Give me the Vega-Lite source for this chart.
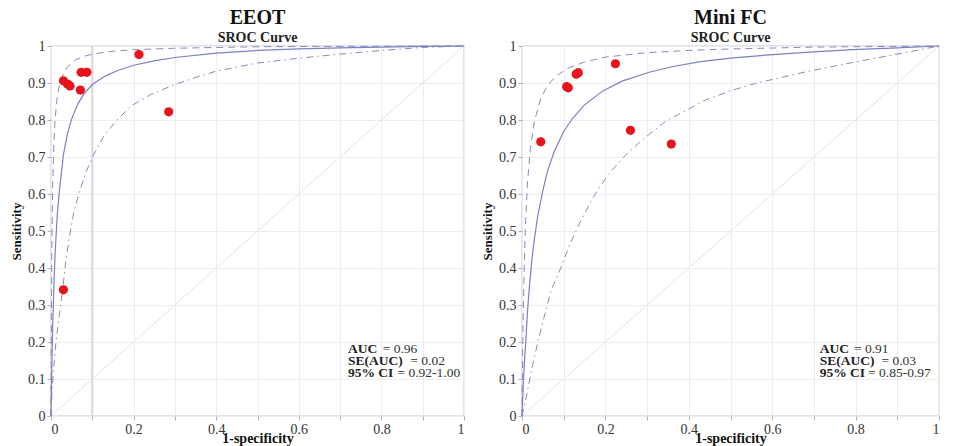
{
  "$schema": "https://vega.github.io/schema/vega-lite/v6.json",
  "background": "white",
  "padding": {"left": 9, "top": 7, "right": 4, "bottom": 0},
  "spacing": 12,
  "config": {
    "font": "Liberation Serif",
    "view": {"stroke": "#c4c4ce", "strokeWidth": 1.3},
    "axis": {
      "domain": false,
      "gridColor": "#ececf1",
      "tickColor": "#b0b0bc",
      "tickSize": 4,
      "labelFont": "Liberation Serif",
      "labelFontSize": 14,
      "labelColor": "#333333",
      "labelPadding": 2,
      "titleFont": "Liberation Serif",
      "titleFontSize": 14,
      "titleFontWeight": "bold",
      "titleColor": "#111111"
    },
    "title": {
      "font": "Liberation Serif",
      "fontSize": 20,
      "fontWeight": "bold",
      "color": "#111111",
      "subtitleFont": "Liberation Serif",
      "subtitleFontSize": 14,
      "subtitleFontWeight": "bold",
      "subtitleColor": "#222222",
      "subtitlePadding": 3,
      "offset": -6,
      "anchor": "middle"
    }
  },
  "datasets": {
    "curves": [
      {"panel": "EEOT", "curve": "diag", "fpr": 0, "tpr": 0},
      {"panel": "EEOT", "curve": "diag", "fpr": 1, "tpr": 1},
      {"panel": "EEOT", "curve": "sroc", "fpr": 0, "tpr": 0},
      {"panel": "EEOT", "curve": "sroc", "fpr": 0.001, "tpr": 0.072},
      {"panel": "EEOT", "curve": "sroc", "fpr": 0.002, "tpr": 0.134},
      {"panel": "EEOT", "curve": "sroc", "fpr": 0.004, "tpr": 0.237},
      {"panel": "EEOT", "curve": "sroc", "fpr": 0.007, "tpr": 0.353},
      {"panel": "EEOT", "curve": "sroc", "fpr": 0.01, "tpr": 0.439},
      {"panel": "EEOT", "curve": "sroc", "fpr": 0.015, "tpr": 0.541},
      {"panel": "EEOT", "curve": "sroc", "fpr": 0.02, "tpr": 0.605},
      {"panel": "EEOT", "curve": "sroc", "fpr": 0.03, "tpr": 0.706},
      {"panel": "EEOT", "curve": "sroc", "fpr": 0.04, "tpr": 0.764},
      {"panel": "EEOT", "curve": "sroc", "fpr": 0.05, "tpr": 0.803},
      {"panel": "EEOT", "curve": "sroc", "fpr": 0.065, "tpr": 0.843},
      {"panel": "EEOT", "curve": "sroc", "fpr": 0.08, "tpr": 0.871},
      {"panel": "EEOT", "curve": "sroc", "fpr": 0.1, "tpr": 0.896},
      {"panel": "EEOT", "curve": "sroc", "fpr": 0.13, "tpr": 0.918},
      {"panel": "EEOT", "curve": "sroc", "fpr": 0.16, "tpr": 0.933},
      {"panel": "EEOT", "curve": "sroc", "fpr": 0.2, "tpr": 0.948},
      {"panel": "EEOT", "curve": "sroc", "fpr": 0.25, "tpr": 0.96},
      {"panel": "EEOT", "curve": "sroc", "fpr": 0.3, "tpr": 0.969},
      {"panel": "EEOT", "curve": "sroc", "fpr": 0.4, "tpr": 0.981},
      {"panel": "EEOT", "curve": "sroc", "fpr": 0.5, "tpr": 0.988},
      {"panel": "EEOT", "curve": "sroc", "fpr": 0.6, "tpr": 0.992},
      {"panel": "EEOT", "curve": "sroc", "fpr": 0.7, "tpr": 0.995},
      {"panel": "EEOT", "curve": "sroc", "fpr": 0.8, "tpr": 0.997},
      {"panel": "EEOT", "curve": "sroc", "fpr": 0.9, "tpr": 0.999},
      {"panel": "EEOT", "curve": "sroc", "fpr": 1, "tpr": 1},
      {"panel": "EEOT", "curve": "upper", "fpr": 0, "tpr": 0},
      {"panel": "EEOT", "curve": "upper", "fpr": 0.0005, "tpr": 0.168},
      {"panel": "EEOT", "curve": "upper", "fpr": 0.001, "tpr": 0.287},
      {"panel": "EEOT", "curve": "upper", "fpr": 0.002, "tpr": 0.447},
      {"panel": "EEOT", "curve": "upper", "fpr": 0.004, "tpr": 0.618},
      {"panel": "EEOT", "curve": "upper", "fpr": 0.007, "tpr": 0.74},
      {"panel": "EEOT", "curve": "upper", "fpr": 0.01, "tpr": 0.803},
      {"panel": "EEOT", "curve": "upper", "fpr": 0.015, "tpr": 0.86},
      {"panel": "EEOT", "curve": "upper", "fpr": 0.02, "tpr": 0.892},
      {"panel": "EEOT", "curve": "upper", "fpr": 0.03, "tpr": 0.926},
      {"panel": "EEOT", "curve": "upper", "fpr": 0.04, "tpr": 0.944},
      {"panel": "EEOT", "curve": "upper", "fpr": 0.06, "tpr": 0.963},
      {"panel": "EEOT", "curve": "upper", "fpr": 0.08, "tpr": 0.972},
      {"panel": "EEOT", "curve": "upper", "fpr": 0.1, "tpr": 0.978},
      {"panel": "EEOT", "curve": "upper", "fpr": 0.15, "tpr": 0.986},
      {"panel": "EEOT", "curve": "upper", "fpr": 0.2, "tpr": 0.99},
      {"panel": "EEOT", "curve": "upper", "fpr": 0.3, "tpr": 0.994},
      {"panel": "EEOT", "curve": "upper", "fpr": 0.4, "tpr": 0.996},
      {"panel": "EEOT", "curve": "upper", "fpr": 0.5, "tpr": 0.998},
      {"panel": "EEOT", "curve": "upper", "fpr": 0.7, "tpr": 0.999},
      {"panel": "EEOT", "curve": "upper", "fpr": 1, "tpr": 1},
      {"panel": "EEOT", "curve": "lower", "fpr": 0, "tpr": 0},
      {"panel": "EEOT", "curve": "lower", "fpr": 0.003, "tpr": 0.08},
      {"panel": "EEOT", "curve": "lower", "fpr": 0.008, "tpr": 0.15},
      {"panel": "EEOT", "curve": "lower", "fpr": 0.012, "tpr": 0.2},
      {"panel": "EEOT", "curve": "lower", "fpr": 0.02, "tpr": 0.27},
      {"panel": "EEOT", "curve": "lower", "fpr": 0.028, "tpr": 0.34},
      {"panel": "EEOT", "curve": "lower", "fpr": 0.036, "tpr": 0.42},
      {"panel": "EEOT", "curve": "lower", "fpr": 0.044, "tpr": 0.48},
      {"panel": "EEOT", "curve": "lower", "fpr": 0.055, "tpr": 0.55},
      {"panel": "EEOT", "curve": "lower", "fpr": 0.07, "tpr": 0.61},
      {"panel": "EEOT", "curve": "lower", "fpr": 0.085, "tpr": 0.66},
      {"panel": "EEOT", "curve": "lower", "fpr": 0.105, "tpr": 0.71},
      {"panel": "EEOT", "curve": "lower", "fpr": 0.13, "tpr": 0.76},
      {"panel": "EEOT", "curve": "lower", "fpr": 0.16, "tpr": 0.8},
      {"panel": "EEOT", "curve": "lower", "fpr": 0.194, "tpr": 0.838},
      {"panel": "EEOT", "curve": "lower", "fpr": 0.24, "tpr": 0.868},
      {"panel": "EEOT", "curve": "lower", "fpr": 0.3, "tpr": 0.896},
      {"panel": "EEOT", "curve": "lower", "fpr": 0.35, "tpr": 0.915},
      {"panel": "EEOT", "curve": "lower", "fpr": 0.4, "tpr": 0.932},
      {"panel": "EEOT", "curve": "lower", "fpr": 0.5, "tpr": 0.954},
      {"panel": "EEOT", "curve": "lower", "fpr": 0.6, "tpr": 0.967},
      {"panel": "EEOT", "curve": "lower", "fpr": 0.68, "tpr": 0.976},
      {"panel": "EEOT", "curve": "lower", "fpr": 0.8, "tpr": 0.988},
      {"panel": "EEOT", "curve": "lower", "fpr": 0.9, "tpr": 0.996},
      {"panel": "EEOT", "curve": "lower", "fpr": 1, "tpr": 1},
      {"panel": "Mini FC", "curve": "diag", "fpr": 0, "tpr": 0},
      {"panel": "Mini FC", "curve": "diag", "fpr": 1, "tpr": 1},
      {"panel": "Mini FC", "curve": "sroc", "fpr": 0, "tpr": 0},
      {"panel": "Mini FC", "curve": "sroc", "fpr": 0.002, "tpr": 0.057},
      {"panel": "Mini FC", "curve": "sroc", "fpr": 0.005, "tpr": 0.131},
      {"panel": "Mini FC", "curve": "sroc", "fpr": 0.009, "tpr": 0.2},
      {"panel": "Mini FC", "curve": "sroc", "fpr": 0.013, "tpr": 0.28},
      {"panel": "Mini FC", "curve": "sroc", "fpr": 0.017, "tpr": 0.34},
      {"panel": "Mini FC", "curve": "sroc", "fpr": 0.023, "tpr": 0.414},
      {"panel": "Mini FC", "curve": "sroc", "fpr": 0.029, "tpr": 0.473},
      {"panel": "Mini FC", "curve": "sroc", "fpr": 0.038, "tpr": 0.542},
      {"panel": "Mini FC", "curve": "sroc", "fpr": 0.049, "tpr": 0.604},
      {"panel": "Mini FC", "curve": "sroc", "fpr": 0.06, "tpr": 0.657},
      {"panel": "Mini FC", "curve": "sroc", "fpr": 0.077, "tpr": 0.714},
      {"panel": "Mini FC", "curve": "sroc", "fpr": 0.1, "tpr": 0.769},
      {"panel": "Mini FC", "curve": "sroc", "fpr": 0.121, "tpr": 0.804},
      {"panel": "Mini FC", "curve": "sroc", "fpr": 0.15, "tpr": 0.841},
      {"panel": "Mini FC", "curve": "sroc", "fpr": 0.193, "tpr": 0.878},
      {"panel": "Mini FC", "curve": "sroc", "fpr": 0.24, "tpr": 0.905},
      {"panel": "Mini FC", "curve": "sroc", "fpr": 0.305, "tpr": 0.929},
      {"panel": "Mini FC", "curve": "sroc", "fpr": 0.36, "tpr": 0.944},
      {"panel": "Mini FC", "curve": "sroc", "fpr": 0.424, "tpr": 0.957},
      {"panel": "Mini FC", "curve": "sroc", "fpr": 0.5, "tpr": 0.967},
      {"panel": "Mini FC", "curve": "sroc", "fpr": 0.592, "tpr": 0.976},
      {"panel": "Mini FC", "curve": "sroc", "fpr": 0.7, "tpr": 0.984},
      {"panel": "Mini FC", "curve": "sroc", "fpr": 0.792, "tpr": 0.99},
      {"panel": "Mini FC", "curve": "sroc", "fpr": 0.9, "tpr": 0.995},
      {"panel": "Mini FC", "curve": "sroc", "fpr": 1, "tpr": 1},
      {"panel": "Mini FC", "curve": "upper", "fpr": 0, "tpr": 0},
      {"panel": "Mini FC", "curve": "upper", "fpr": 0.0005, "tpr": 0.06},
      {"panel": "Mini FC", "curve": "upper", "fpr": 0.001, "tpr": 0.113},
      {"panel": "Mini FC", "curve": "upper", "fpr": 0.002, "tpr": 0.204},
      {"panel": "Mini FC", "curve": "upper", "fpr": 0.003, "tpr": 0.278},
      {"panel": "Mini FC", "curve": "upper", "fpr": 0.005, "tpr": 0.391},
      {"panel": "Mini FC", "curve": "upper", "fpr": 0.008, "tpr": 0.507},
      {"panel": "Mini FC", "curve": "upper", "fpr": 0.013, "tpr": 0.627},
      {"panel": "Mini FC", "curve": "upper", "fpr": 0.02, "tpr": 0.723},
      {"panel": "Mini FC", "curve": "upper", "fpr": 0.03, "tpr": 0.798},
      {"panel": "Mini FC", "curve": "upper", "fpr": 0.045, "tpr": 0.858},
      {"panel": "Mini FC", "curve": "upper", "fpr": 0.06, "tpr": 0.891},
      {"panel": "Mini FC", "curve": "upper", "fpr": 0.08, "tpr": 0.917},
      {"panel": "Mini FC", "curve": "upper", "fpr": 0.11, "tpr": 0.94},
      {"panel": "Mini FC", "curve": "upper", "fpr": 0.15, "tpr": 0.957},
      {"panel": "Mini FC", "curve": "upper", "fpr": 0.2, "tpr": 0.97},
      {"panel": "Mini FC", "curve": "upper", "fpr": 0.3, "tpr": 0.982},
      {"panel": "Mini FC", "curve": "upper", "fpr": 0.4, "tpr": 0.988},
      {"panel": "Mini FC", "curve": "upper", "fpr": 0.5, "tpr": 0.992},
      {"panel": "Mini FC", "curve": "upper", "fpr": 0.7, "tpr": 0.997},
      {"panel": "Mini FC", "curve": "upper", "fpr": 1, "tpr": 1},
      {"panel": "Mini FC", "curve": "lower", "fpr": 0, "tpr": 0},
      {"panel": "Mini FC", "curve": "lower", "fpr": 0.01, "tpr": 0.05},
      {"panel": "Mini FC", "curve": "lower", "fpr": 0.025, "tpr": 0.135},
      {"panel": "Mini FC", "curve": "lower", "fpr": 0.04, "tpr": 0.21},
      {"panel": "Mini FC", "curve": "lower", "fpr": 0.053, "tpr": 0.267},
      {"panel": "Mini FC", "curve": "lower", "fpr": 0.07, "tpr": 0.34},
      {"panel": "Mini FC", "curve": "lower", "fpr": 0.093, "tpr": 0.4},
      {"panel": "Mini FC", "curve": "lower", "fpr": 0.115, "tpr": 0.465},
      {"panel": "Mini FC", "curve": "lower", "fpr": 0.14, "tpr": 0.525},
      {"panel": "Mini FC", "curve": "lower", "fpr": 0.17, "tpr": 0.59},
      {"panel": "Mini FC", "curve": "lower", "fpr": 0.205, "tpr": 0.65},
      {"panel": "Mini FC", "curve": "lower", "fpr": 0.241, "tpr": 0.697},
      {"panel": "Mini FC", "curve": "lower", "fpr": 0.29, "tpr": 0.748},
      {"panel": "Mini FC", "curve": "lower", "fpr": 0.344, "tpr": 0.796},
      {"panel": "Mini FC", "curve": "lower", "fpr": 0.44, "tpr": 0.854},
      {"panel": "Mini FC", "curve": "lower", "fpr": 0.5, "tpr": 0.879},
      {"panel": "Mini FC", "curve": "lower", "fpr": 0.56, "tpr": 0.899},
      {"panel": "Mini FC", "curve": "lower", "fpr": 0.68, "tpr": 0.93},
      {"panel": "Mini FC", "curve": "lower", "fpr": 0.8, "tpr": 0.957},
      {"panel": "Mini FC", "curve": "lower", "fpr": 0.904, "tpr": 0.979},
      {"panel": "Mini FC", "curve": "lower", "fpr": 1, "tpr": 1}
    ],
    "studies": [
      {"panel": "EEOT", "fpr": 0.03, "tpr": 0.906},
      {"panel": "EEOT", "fpr": 0.04, "tpr": 0.897},
      {"panel": "EEOT", "fpr": 0.046, "tpr": 0.892},
      {"panel": "EEOT", "fpr": 0.071, "tpr": 0.881},
      {"panel": "EEOT", "fpr": 0.073, "tpr": 0.929},
      {"panel": "EEOT", "fpr": 0.087, "tpr": 0.929},
      {"panel": "EEOT", "fpr": 0.213, "tpr": 0.977},
      {"panel": "EEOT", "fpr": 0.285, "tpr": 0.822},
      {"panel": "EEOT", "fpr": 0.03, "tpr": 0.341},
      {"panel": "Mini FC", "fpr": 0.045, "tpr": 0.741},
      {"panel": "Mini FC", "fpr": 0.107, "tpr": 0.89},
      {"panel": "Mini FC", "fpr": 0.111, "tpr": 0.887},
      {"panel": "Mini FC", "fpr": 0.13, "tpr": 0.924},
      {"panel": "Mini FC", "fpr": 0.135, "tpr": 0.928},
      {"panel": "Mini FC", "fpr": 0.224, "tpr": 0.952},
      {"panel": "Mini FC", "fpr": 0.26, "tpr": 0.772},
      {"panel": "Mini FC", "fpr": 0.358, "tpr": 0.735}
    ],
    "stats": [
      {"panel": "EEOT", "kind": "label", "text": "AUC", "fpr": 0.719, "tpr": 0.18},
      {"panel": "EEOT", "kind": "value", "text": "= 0.96", "fpr": 0.803, "tpr": 0.18},
      {"panel": "EEOT", "kind": "label", "text": "SE(AUC)", "fpr": 0.719, "tpr": 0.148},
      {"panel": "EEOT", "kind": "value", "text": "= 0.02", "fpr": 0.87, "tpr": 0.148},
      {"panel": "EEOT", "kind": "label", "text": "95% CI", "fpr": 0.719, "tpr": 0.116},
      {"panel": "EEOT", "kind": "value", "text": "= 0.92-1.00", "fpr": 0.839, "tpr": 0.116},
      {"panel": "Mini FC", "kind": "label", "text": "AUC", "fpr": 0.714, "tpr": 0.18},
      {"panel": "Mini FC", "kind": "value", "text": "= 0.91", "fpr": 0.796, "tpr": 0.18},
      {"panel": "Mini FC", "kind": "label", "text": "SE(AUC)", "fpr": 0.714, "tpr": 0.148},
      {"panel": "Mini FC", "kind": "value", "text": "= 0.03", "fpr": 0.862, "tpr": 0.148},
      {"panel": "Mini FC", "kind": "label", "text": "95% CI", "fpr": 0.714, "tpr": 0.116},
      {"panel": "Mini FC", "kind": "value", "text": "= 0.85-0.97", "fpr": 0.83, "tpr": 0.116}
    ],
    "marker": [
      {"panel": "EEOT", "fpr": 0.1}
    ]
  },
  "hconcat": [
    {
      "width": 413,
      "height": 370,
      "title": {"text": "EEOT", "subtitle": "SROC Curve"},
      "encoding": {
        "x": {"field": "fpr", "type": "quantitative", "scale": {"domain": [0, 1], "nice": false},
              "axis": {"title": "1-specificity", "values": [0, 0.1, 0.2, 0.3, 0.4, 0.5, 0.6, 0.7, 0.8, 0.9, 1], "labelExpr": "round(datum.value*10)%2==0 ? format(datum.value, '~g') : ''", "titlePadding": -5}},
        "y": {"field": "tpr", "type": "quantitative", "scale": {"domain": [0, 1], "nice": false},
              "axis": {"title": "Sensitivity", "values": [0, 0.1, 0.2, 0.3, 0.4, 0.5, 0.6, 0.7, 0.8, 0.9, 1], "format": "~g", "titleFontSize": 13, "titlePadding": 4}}
      },
      "layer": [
        {"data": {"name": "marker"}, "mark": {"type": "rule", "color": "#d6d6de", "strokeWidth": 2}, "encoding": {"y": null}},
        {"data": {"name": "curves"}, "transform": [{"filter": "datum.panel == 'EEOT' && datum.curve == 'diag'"}], "mark": {"type": "line", "color": "#e2e2ea", "strokeWidth": 1}},
        {"data": {"name": "curves"}, "transform": [{"filter": "datum.panel == 'EEOT' && datum.curve == 'upper'"}], "mark": {"type": "line", "color": "#8a8ab8", "strokeWidth": 1, "strokeDash": [7, 5]}},
        {"data": {"name": "curves"}, "transform": [{"filter": "datum.panel == 'EEOT' && datum.curve == 'lower'"}], "mark": {"type": "line", "color": "#8a8ab8", "strokeWidth": 1, "strokeDash": [7, 4, 1.5, 4]}},
        {"data": {"name": "curves"}, "transform": [{"filter": "datum.panel == 'EEOT' && datum.curve == 'sroc'"}], "mark": {"type": "line", "color": "#7c80c6", "strokeWidth": 1.2}},
        {"data": {"name": "studies"}, "transform": [{"filter": "datum.panel == 'EEOT'"}], "mark": {"type": "circle", "color": "#e8141c", "size": 85, "opacity": 1}},
        {"data": {"name": "stats"}, "transform": [{"filter": "datum.panel == 'EEOT' && datum.kind == 'label'"}], "mark": {"type": "text", "align": "left", "baseline": "middle", "font": "Liberation Serif", "fontSize": 13.5, "fontWeight": "bold", "color": "#222222"}, "encoding": {"text": {"field": "text"}}},
        {"data": {"name": "stats"}, "transform": [{"filter": "datum.panel == 'EEOT' && datum.kind == 'value'"}], "mark": {"type": "text", "align": "left", "baseline": "middle", "font": "Liberation Serif", "fontSize": 13.5, "color": "#333333"}, "encoding": {"text": {"field": "text"}}}
      ]
    },
    {
      "width": 417,
      "height": 370,
      "title": {"text": "Mini FC", "subtitle": "SROC Curve"},
      "encoding": {
        "x": {"field": "fpr", "type": "quantitative", "scale": {"domain": [0, 1], "nice": false},
              "axis": {"title": "1-specificity", "values": [0, 0.1, 0.2, 0.3, 0.4, 0.5, 0.6, 0.7, 0.8, 0.9, 1], "labelExpr": "round(datum.value*10)%2==0 ? format(datum.value, '~g') : ''", "titlePadding": -5}},
        "y": {"field": "tpr", "type": "quantitative", "scale": {"domain": [0, 1], "nice": false},
              "axis": {"title": "Sensitivity", "values": [0, 0.1, 0.2, 0.3, 0.4, 0.5, 0.6, 0.7, 0.8, 0.9, 1], "format": "~g", "titleFontSize": 13, "titlePadding": 4}}
      },
      "layer": [
        {"data": {"name": "curves"}, "transform": [{"filter": "datum.panel == 'Mini FC' && datum.curve == 'diag'"}], "mark": {"type": "line", "color": "#e2e2ea", "strokeWidth": 1}},
        {"data": {"name": "curves"}, "transform": [{"filter": "datum.panel == 'Mini FC' && datum.curve == 'upper'"}], "mark": {"type": "line", "color": "#8a8ab8", "strokeWidth": 1, "strokeDash": [7, 5]}},
        {"data": {"name": "curves"}, "transform": [{"filter": "datum.panel == 'Mini FC' && datum.curve == 'lower'"}], "mark": {"type": "line", "color": "#8a8ab8", "strokeWidth": 1, "strokeDash": [7, 4, 1.5, 4]}},
        {"data": {"name": "curves"}, "transform": [{"filter": "datum.panel == 'Mini FC' && datum.curve == 'sroc'"}], "mark": {"type": "line", "color": "#7c80c6", "strokeWidth": 1.2}},
        {"data": {"name": "studies"}, "transform": [{"filter": "datum.panel == 'Mini FC'"}], "mark": {"type": "circle", "color": "#e8141c", "size": 85, "opacity": 1}},
        {"data": {"name": "stats"}, "transform": [{"filter": "datum.panel == 'Mini FC' && datum.kind == 'label'"}], "mark": {"type": "text", "align": "left", "baseline": "middle", "font": "Liberation Serif", "fontSize": 13.5, "fontWeight": "bold", "color": "#222222"}, "encoding": {"text": {"field": "text"}}},
        {"data": {"name": "stats"}, "transform": [{"filter": "datum.panel == 'Mini FC' && datum.kind == 'value'"}], "mark": {"type": "text", "align": "left", "baseline": "middle", "font": "Liberation Serif", "fontSize": 13.5, "color": "#333333"}, "encoding": {"text": {"field": "text"}}}
      ]
    }
  ]
}
